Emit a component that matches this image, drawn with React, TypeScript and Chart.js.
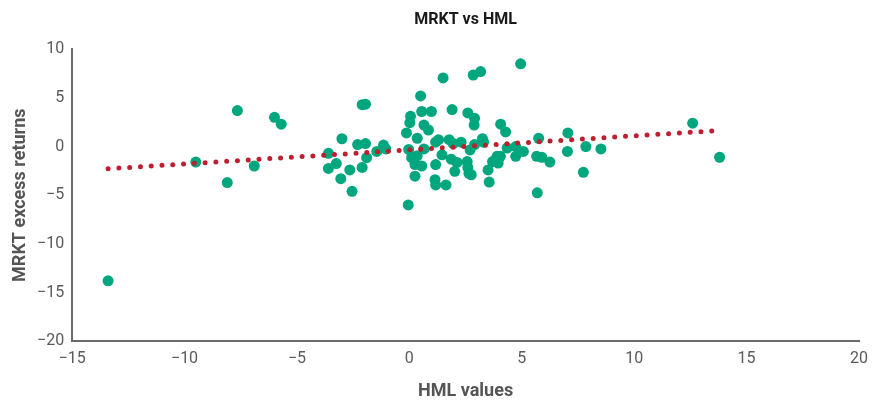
import React, { useEffect, useRef } from "react";
import { Chart, registerables } from "chart.js";

Chart.register(...registerables);

const hmlValues = [
  -13.4, -9.5, -7.65, -8.1, -6.9, -6.0, -5.7,
  -3.0, -3.6, -3.25, -3.6, -3.05, -2.65, -2.55, -2.3, -1.95, -1.9, -2.1, -1.45, -1.15, -1.05, -2.1, -1.95,
  -0.13, -0.05, -0.03, 0.1, 0.35, 0.25, 0.25, 0.55, 0.35, 0.65, 0.05, 0.02, 0.5, 0.55, 0.98, 0.65, 0.85,
  1.5, 1.17, 1.3, 1.45, 1.17, 1.14, 1.17, 1.63, 1.77, 1.95, 2.3, 1.86, 2.12, 2.02, 1.9,
  2.6, 2.9, 2.88, 2.84, 3.17, 2.57, 2.6, 2.65, 2.75, 2.7, 2.9, 3.25, 3.3, 3.5, 3.55,
  3.7, 3.9, 4.05, 3.95, 4.06, 4.28, 4.35, 4.73, 5.07, 4.73, 4.95,
  5.75, 5.66, 5.89, 6.25, 5.69, 7.05, 7.03, 7.85, 8.52, 7.74, 12.6, 13.8,
];

const mrktReturns = [
  -13.8, -1.6, 3.7, -3.7, -2.0, 3.0, 2.3,
  0.8, -0.7, -1.75, -2.25, -3.3, -2.4, -4.6, 0.2, 0.3, -1.15, -2.15, -0.5, 0.15, -0.25, 4.3, 4.35,
  1.4, -6.0, -0.3, -1.15, 0.85, -3.05, -1.85, -2.0, -0.95, -0.25, 3.1, 2.45, 5.2, 3.6, 3.6, 2.2, 1.7,
  7.05, 0.45, 0.7, -0.85, -1.85, -3.4, -3.95, -3.95, 0.7, 0.3, 0.45, -1.3, -1.63, -2.55, 3.8,
  3.45, 2.9, 2.2, 7.35, 7.7, -1.55, -2.15, -2.75, -2.9, -0.35, 0.2, 0.8, 0.45, -2.4, -3.65,
  -1.55, -1.0, -1.0, -1.7, 2.3, 1.5, -0.15, 0.0, -0.5, -1.0, 8.5,
  0.85, -1.0, -1.1, -1.6, -4.75, 1.4, -0.5, 0.0, -0.25, -2.65, 2.4, -1.1,
];

const trendX = [-13.4, 13.6];
const trendY = [-2.28, 1.62];

const xTicks = [-15, -10, -5, 0, 5, 10, 15, 20];
const yTicks = [-20, -15, -10, -5, 0, 5, 10];

const chartTitle = "MRKT vs HML";
const xTitle = "HML values";
const yTitle = "MRKT excess returns";

const tickFont = "'Roboto', sans-serif";
const titleFont = "'Roboto', 'Liberation Sans', sans-serif";

const fmt = (v: number) => String(v).replace("-", "\u2212");

// Draws the chart title centred over the plot area (the title plugin reserves the space)
const centredTitle = {
  id: "centredTitle",
  afterDraw(chart: any) {
    const { ctx, chartArea } = chart;
    const t = chart.titleBlock;
    if (!t) return;
    ctx.save();
    ctx.font = `bold 16px ${titleFont}`;
    ctx.fillStyle = "#1a1a1a";
    ctx.textAlign = "center";
    ctx.textBaseline = "middle";
    const cy = t.top + 6 + 9.6;
    ctx.fillText(chartTitle, (chartArea.left + chartArea.right) / 2, cy);
    ctx.restore();
  },
};

export default function App() {
  const ref = useRef<HTMLCanvasElement | null>(null);

  useEffect(() => {
    if (!ref.current) return;
    const points = hmlValues.map((x, i) => ({ x, y: mrktReturns[i] }));
    const trend = trendX.map((x, i) => ({ x, y: trendY[i] }));
    const chart = new Chart(ref.current, {
      type: "scatter",
      data: {
        datasets: [
          {
            label: "trend",
            data: trend,
            showLine: true,
            borderColor: "#BE1E2D",
            borderWidth: 5,
            borderDash: [0, 10.8],
            borderCapStyle: "round",
            pointRadius: 0,
            fill: false,
          } as any,
          {
            label: "points",
            data: points,
            backgroundColor: "#00A67E",
            borderWidth: 0,
            pointRadius: 5.5,
          },
        ],
      },
      plugins: [centredTitle],
      options: {
        animation: false,
        responsive: true,
        maintainAspectRatio: false,
        layout: { padding: { left: 2, right: 10, top: 4, bottom: 0 } },
        plugins: {
          legend: { display: false },
          tooltip: { enabled: false },
          title: {
            display: true,
            text: chartTitle,
            color: "rgba(0,0,0,0)",
            font: { family: titleFont, size: 16, weight: "bold" },
            padding: { top: 5, bottom: 21 },
          },
        },
        scales: {
          x: {
            type: "linear",
            min: -15,
            max: 20,
            afterBuildTicks: (axis: any) => {
              axis.ticks = xTicks.map((v) => ({ value: v }));
            },
            grid: { display: false, drawTicks: false },
            border: { display: true, color: "#6b6b6b", width: 2 },
            ticks: {
              color: "#5a5a5a",
              font: { family: tickFont, size: 16 },
              padding: 8,
              callback: (v: any) => fmt(Number(v)),
            },
            title: {
              display: true,
              text: xTitle,
              color: "#555",
              font: { family: titleFont, size: 18, weight: "bold" },
              padding: { top: 4, bottom: 0 },
            },
          },
          y: {
            type: "linear",
            min: -20,
            max: 10,
            afterBuildTicks: (axis: any) => {
              axis.ticks = yTicks.map((v) => ({ value: v }));
            },
            grid: { display: false, drawTicks: false },
            border: { display: true, color: "#6b6b6b", width: 2 },
            ticks: {
              color: "#5a5a5a",
              font: { family: tickFont, size: 16 },
              padding: 8,
              callback: (v: any) => fmt(Number(v)),
            },
            title: {
              display: true,
              text: yTitle,
              color: "#555",
              font: { family: titleFont, size: 18, weight: "bold", lineHeight: 1 },
              padding: { top: 9, bottom: 0 },
            },
          },
        },
      },
    });
    return () => chart.destroy();
  }, []);

  return (
    <div style={{ position: "fixed", left: 0, top: 0, width: 876, height: 402, background: "#fff" }}>
      <canvas ref={ref} />
    </div>
  );
}
